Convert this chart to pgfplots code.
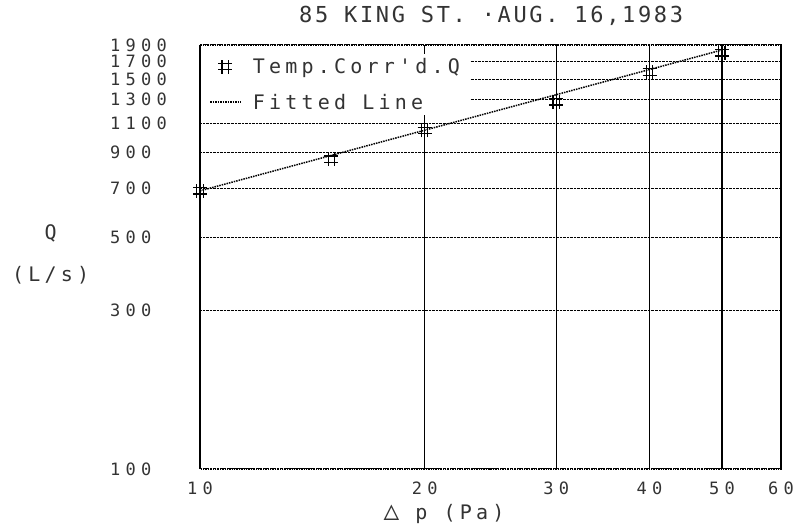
\documentclass[border=0pt]{standalone}
\usepackage{fontspec}
\newfontfamily\dm[LetterSpace=21]{DejaVu Sans Mono}
\newfontfamily\dmtick[LetterSpace=31]{DejaVu Sans Mono}
\newfontfamily\dmtitle[LetterSpace=12]{DejaVu Sans Mono}
\usepackage{pgfplots}
\usepackage{pgfplotstable}
\pgfplotsset{compat=1.18}

% dot-matrix style "#" marker
\pgfdeclareplotmark{hash}{%
  \pgfpathmoveto{\pgfqpoint{-0.45\pgfplotmarksize}{-\pgfplotmarksize}}%
  \pgfpathlineto{\pgfqpoint{-0.45\pgfplotmarksize}{\pgfplotmarksize}}%
  \pgfpathmoveto{\pgfqpoint{0.45\pgfplotmarksize}{-\pgfplotmarksize}}%
  \pgfpathlineto{\pgfqpoint{0.45\pgfplotmarksize}{\pgfplotmarksize}}%
  \pgfpathmoveto{\pgfqpoint{-\pgfplotmarksize}{-0.45\pgfplotmarksize}}%
  \pgfpathlineto{\pgfqpoint{\pgfplotmarksize}{-0.45\pgfplotmarksize}}%
  \pgfpathmoveto{\pgfqpoint{-\pgfplotmarksize}{0.45\pgfplotmarksize}}%
  \pgfpathlineto{\pgfqpoint{\pgfplotmarksize}{0.45\pgfplotmarksize}}%
  \pgfusepathqstroke
}

\pgfplotstableread{
dp   Q
10   690
15   860
20   1050
30   1280
40   1575
50   1800
}\measured

\pgfplotstableread{
dp   Q
10   690
50   1835
}\fitted

\begin{document}
\begin{tikzpicture}[font=\dm\fontsize{20bp}{24bp}\selectfont, text=black!80]
\begin{axis}[
    scale only axis, width=581bp, height=424bp,
    xmode=log, ymode=log,
    xmin=10, xmax=60, ymin=100, ymax=1900,
    axis lines=box,
    x axis line style={black, densely dotted, line width=1bp},
    y axis line style={black, line width=1.4bp},
    xtick={10,20,30,40,50,60},
    xticklabels={10,20,30,40,50,60},
    ytick={100,300,500,700,900,1100,1300,1500,1700,1900},
    yticklabels={100,300,500,700,900,1100,1300,1500,1700,1900},
    minor xtick={}, minor ytick={},
    major tick length=0pt,
    grid=major,
    major x grid style={black, line width=1.4bp},
    major y grid style={black, densely dotted, line width=1bp},
    ticklabel style={font=\dmtick\fontsize{17bp}{19bp}\selectfont},
    yticklabel style={anchor=west, inner sep=0pt, xshift=-90bp},
    xticklabel style={yshift=-9bp},
    title={85 KING ST. ·AUG. 16,1983},
    title style={at={(axis description cs:0.501,1.054)}, anchor=center,
        font=\dmtitle\fontsize{22bp}{26bp}\selectfont},
    xlabel={{\fontsize{26bp}{26bp}\selectfont △}\ p (Pa)},
    xlabel style={at={(axis description cs:0.42,-0.106)}, anchor=center},
    ylabel={Q\\[18bp](L/s)},
    ylabel style={rotate=-90, at={(axis description cs:-0.257,0.505)},
        anchor=center, align=center},
    legend style={at={(axis description cs:0,1)}, anchor=north west,
        xshift=1.2bp, yshift=-9bp,
        draw=none, fill=white, inner xsep=8bp, inner ysep=2bp,
        row sep=15bp},
    legend cell align=left,
    /tikz/every odd column/.append style={column sep=10bp},
    legend image code/.code={%
        \draw[mark repeat=2, mark phase=2, #1]
            plot coordinates {(0bp,0bp) (15bp,0bp) (30bp,0bp)};},
]
\addplot[only marks, mark=hash, mark size=7bp, line width=1.2bp, black]
    table[x=dp, y=Q] {\measured};
\addlegendentry{Temp.Corr'd.Q}

\addplot[no marks, black, densely dotted, line width=1.5bp]
    table[x=dp, y=Q] {\fitted};
\addlegendentry{Fitted Line}
\end{axis}
\path (current axis.south west) ++(-200bp,-55bp) rectangle ++(806bp,524bp);
\end{tikzpicture}
\end{document}
